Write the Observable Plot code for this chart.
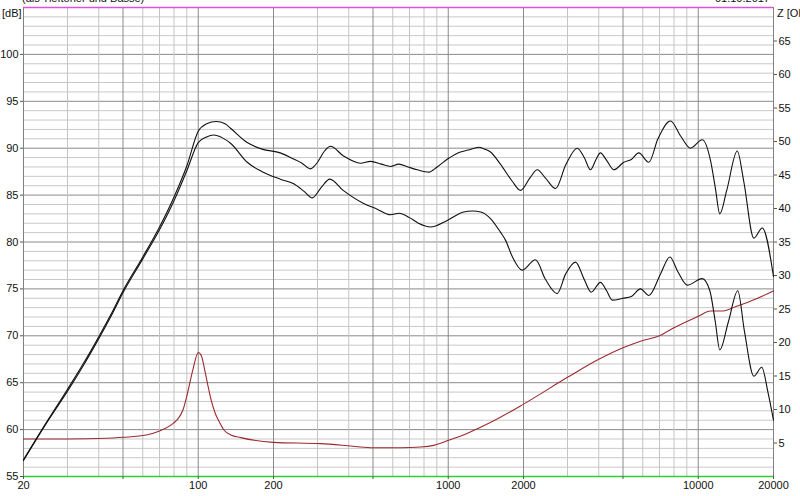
<!DOCTYPE html>
<html><head><meta charset="utf-8">
<script src="https://cdn.jsdelivr.net/npm/d3@7"></script>
<script src="https://cdn.jsdelivr.net/npm/@observablehq/plot@0.6"></script>
<style>html,body{margin:0;padding:0;background:#fff;overflow:hidden}</style>
</head><body><div id="chart"></div>
<script>
// Upper SPL curve (dB)
const upperFreq = [20,25,30,35,40,45,50,60,70,80,90,100,108,118,128,135,157,180,213,238,260,281,300,320,338,380,446,489,540,588,634,690,752,836,903,1000,1119,1200,1325,1400,1476,1617,1800,1945,2130,2270,2450,2686,2950,3281,3500,3707,3900,4063,4300,4595,5037,5400,5783,6342,6900,7747,8500,9313,10375,11194,11700,12196,13000,14322,15200,16689,18034,20000];
const upperDb   = [56.8,61.0,64.3,67.2,69.9,72.4,74.8,78.4,81.6,84.8,88.1,91.8,92.6,92.85,92.6,92.1,90.6,89.9,89.5,88.9,88.4,87.8,88.5,89.7,90.2,89.2,88.4,88.6,88.3,88.05,88.3,88.0,87.7,87.45,88.0,88.9,89.6,89.8,90.1,89.9,89.6,88.3,86.5,85.5,86.9,87.7,86.8,85.7,88.2,90.0,89.0,87.7,88.8,89.5,88.7,87.7,88.5,88.8,89.5,88.5,91.0,92.9,91.3,90.0,90.9,88.7,85.8,83.0,85.5,89.7,86.5,80.4,81.5,76.3];
// Lower SPL curve (dB)
const lowerFreq = [20,25,30,35,40,45,50,60,70,80,90,100,108,115,125,135,157,180,213,241,265,286,310,336,380,459,520,588,634,700,760,849,991,1154,1250,1349,1476,1617,1694,1800,1977,2233,2450,2727,2950,3229,3500,3729,4063,4300,4529,5000,5400,5875,6342,7066,7698,8300,9036,10375,11128,11700,12196,13200,14390,15300,16689,17950,19000,20000];
const lowerDb   = [56.7,60.9,64.1,67.0,69.7,72.2,74.6,78.2,81.3,84.4,87.6,90.6,91.2,91.4,91.1,90.5,88.5,87.5,86.7,86.2,85.4,84.7,85.8,86.7,85.5,84.1,83.5,82.9,83.07,82.6,82.0,81.6,82.3,83.2,83.3,83.2,82.5,81.05,80.2,78.5,77.0,78.1,76.0,74.5,76.6,77.85,76.0,74.65,75.7,74.8,73.8,74.0,74.2,75.0,74.3,76.6,78.4,76.8,75.4,76.1,74.8,71.5,68.5,71.5,74.8,70.5,65.7,66.65,64.0,61.0];
// Impedance curve (Ohm)
const zFreq = [20,30,43,50,62,70,78,82,87,90,95,100,103,106,109,113,117,122,127,135,148,200,308,394,489,644,775,875,1004,1200,1500,2000,3000,4000,5000,6000,7000,8000,10000,11200,12600,14000,17000,20000];
const zOhm  = [5.6,5.6,5.7,5.85,6.2,6.8,7.7,8.4,10.0,12.0,15.8,18.5,18.0,16.0,13.8,11.2,9.4,8.0,6.9,6.2,5.8,5.1,4.9,4.6,4.3,4.3,4.4,4.65,5.4,6.5,8.2,10.8,14.8,17.5,19.2,20.3,21.0,22.2,23.9,24.7,24.7,25.3,26.5,27.7];

// Axis ticks / grid
const freqTicks = [20,50,100,200,500,1000,2000,5000,10000,20000];
const freqGridMajor = [50,100,200,500,1000,2000,5000,10000];
const freqGridMinor = [30,40,60,70,80,90,300,400,600,700,800,900,3000,4000,6000,7000,8000,9000];
const dbTicks = [55,60,65,70,75,80,85,90,95,100];
const dbGridMajor = [60,65,70,75,80,85,90,95,100];
const dbGridMinor = d3.range(56,105).filter(v => v % 5 !== 0);
const zTicks = [5,10,15,20,25,30,35,40,45,50,55,60,65];

const zToDb = z => 55 + z * 50 / 70;
const upper = upperFreq.map((f,i) => ({f, v: upperDb[i]}));
const lower = lowerFreq.map((f,i) => ({f, v: lowerDb[i]}));
const imp = zFreq.map((f,i) => ({f, v: zToDb(zOhm[i])}));

const chart = Plot.plot({
  width: 800, height: 496,
  marginLeft: 23, marginRight: 27, marginTop: 7, marginBottom: 20,
  style: {background: "#fff", fontFamily: "'Liberation Sans', Arial, sans-serif", fontSize: "11px", color: "#111"},
  x: {type: "log", domain: [20, 20000]},
  y: {domain: [55, 105]},
  marks: [
    Plot.ruleY(dbGridMinor, {stroke: "#c8c8c8", strokeWidth: 1}),
    Plot.ruleY(dbGridMajor, {stroke: "#8a8a8a", strokeWidth: 1}),
    Plot.ruleX(freqGridMinor, {stroke: "#c4c4c4", strokeWidth: 1}),
    Plot.ruleX(freqGridMajor, {stroke: "#8a8a8a", strokeWidth: 1}),
    Plot.ruleX([20, 20000], {stroke: "#808080", strokeWidth: 1}),
    Plot.line(imp, {x: "f", y: "v", stroke: "#9c2a30", strokeWidth: 1.1, curve: "monotone-x"}),
    Plot.line(lower, {x: "f", y: "v", stroke: "#111", strokeWidth: 1.1, curve: "monotone-x"}),
    Plot.line(upper, {x: "f", y: "v", stroke: "#111", strokeWidth: 1.1, curve: "monotone-x"}),
    Plot.ruleY([105], {stroke: "#e050e0", strokeWidth: 1.5}),
    Plot.ruleY([55], {stroke: "#30d030", strokeWidth: 1.5}),
    Plot.axisY(dbTicks, {anchor: "left", tickSize: 3, tickPadding: 2, label: null, stroke: "#555"}),
    Plot.axisY(zTicks.map(zToDb), {anchor: "right", tickSize: 3, tickPadding: 2, label: null, stroke: "#555",
      tickFormat: d => String(Math.round((d - 55) * 1.4))}),
    Plot.axisX(freqTicks, {tickSize: 3, tickPadding: 2, label: null, stroke: "#555", tickFormat: d => String(d)})
  ]
});
document.getElementById("chart").appendChild(chart);

const svg = d3.select(chart);
const addText = (x, y, s, anchor) => svg.append("text").attr("x", x).attr("y", y)
  .attr("text-anchor", anchor || "start").attr("fill", "#111")
  .style("font-family", "'Liberation Sans', Arial, sans-serif").style("font-size", "11px").text(s);
addText(2, 17, "[dB]");
addText(777, 17, "Z [Ohm]");
addText(22, 2, "(als Tieftöner und Bässe)");
addText(770, 2, "01.10.2017", "end");
</script>
</body></html>
